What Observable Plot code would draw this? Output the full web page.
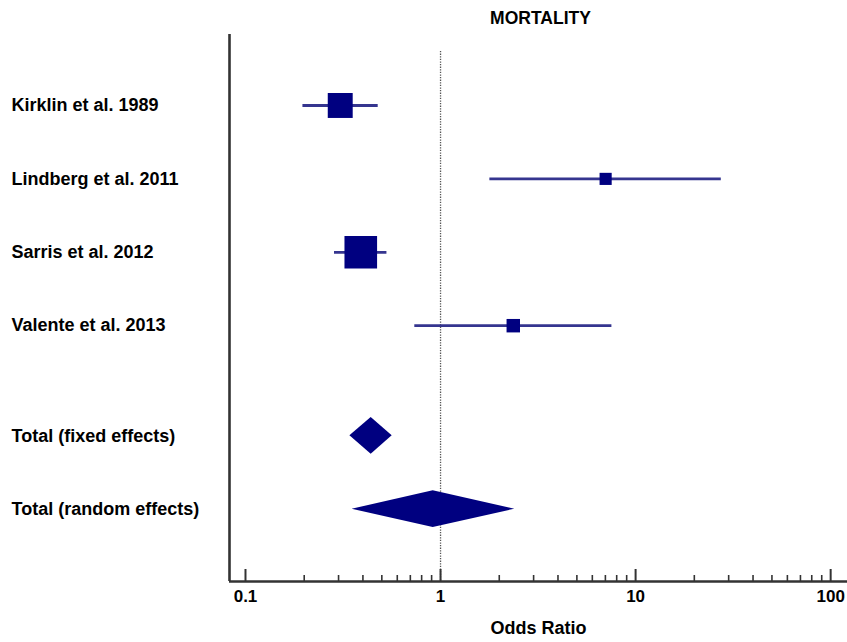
<!DOCTYPE html>
<html>
<head>
<meta charset="utf-8">
<script src="https://cdn.jsdelivr.net/npm/d3@7"></script>
<script src="https://cdn.jsdelivr.net/npm/@observablehq/plot@0.6"></script>
<style>
  html, body { margin: 0; padding: 0; background: #fff; }
  #chart svg { display: block; }
  #chart svg [aria-label="x-axis label"] text { font-size: 18px; }
</style>
</head>
<body>
<div id="chart"></div>
<script>
const studies = ["Kirklin et al. 1989", "Lindberg et al. 2011", "Sarris et al. 2012", "Valente et al. 2013"];
const studyOR = [0.306, 7.02, 0.390, 2.36];
const studyLower = [0.197, 1.79, 0.286, 0.738];
const studyUpper = [0.479, 27.5, 0.531, 7.56];
const studyWeight = [30.9, 7.3, 52.8, 9.0];

const pooledLabels = ["Total (fixed effects)", "Total (random effects)"];
const pooledOR = [0.441, 0.917];
const pooledLower = [0.343, 0.352];
const pooledUpper = [0.565, 2.40];

const majorTicks = [0.1, 1, 10, 100];
const tickLabels = ["0.1", "1", "10", "100"];
const minorTicks = [];
for (const base of [0.1, 1, 10]) for (let k = 2; k <= 9; k++) minorTicks.push(+(base * k).toPrecision(3));

const title = "MORTALITY";
const xLabel = "Odds Ratio";

// row positions (study rows, then a 1.5-row gap before the totals)
const studyRows = studies.map((s, i) => ({
  label: s, or: studyOR[i], lo: studyLower[i], hi: studyUpper[i], w: studyWeight[i], row: i
}));
const pooledRows = pooledLabels.map((s, i) => ({
  label: s, or: pooledOR[i], lo: pooledLower[i], hi: pooledUpper[i], row: studies.length + 0.5 + i
}));
const halfH = 0.25;
const diamondPts = pooledRows.flatMap(d => [
  {z: d.label, x: d.lo, y1: d.row, y2: d.row},
  {z: d.label, x: d.or, y1: d.row - halfH, y2: d.row + halfH},
  {z: d.label, x: d.hi, y1: d.row, y2: d.row}
]);
const allRows = [...studyRows, ...pooledRows];

const W = 847, H = 642, mT = 34, mB = 61, mL = 229, mR = 0;
const frameH = H - mT - mB;
const yDomain = [-0.967, 6.485];
const xDomain = [0.0828, 122];
const ink = "#333333";

const plot = Plot.plot({
  width: W, height: H,
  marginTop: mT, marginBottom: mB, marginLeft: mL, marginRight: mR,
  style: {fontFamily: "'Liberation Sans', Arial, sans-serif", background: "#fff", color: "#000"},
  x: {type: "log", domain: xDomain},
  y: {type: "linear", domain: yDomain, reverse: true, axis: null},
  r: {type: "sqrt", domain: [0, d3.max(studyWeight)], range: [0, 18.4]},
  marks: [
    Plot.ruleX([1], {insetTop: 17, stroke: "#555", strokeWidth: 1.3, strokeDasharray: "1.3,1.3"}),
    Plot.ruleY(studyRows, {x1: "lo", x2: "hi", y: "row", stroke: "#35358f", strokeWidth: 2.8}),
    Plot.dot(studyRows, {x: "or", y: "row", r: "w", symbol: "square", fill: "#000080", stroke: "none"}),
    Plot.areaY(diamondPts, {x: "x", y1: "y1", y2: "y2", z: "z", fill: "#000080", curve: "linear"}),
    Plot.text(allRows, {y: "row", text: "label", frameAnchor: "left", dx: -218, textAnchor: "start",
      fontWeight: "bold", fontSize: 18, fill: "#000"}),
    Plot.text([title], {frameAnchor: "top", lineAnchor: "middle", dy: -16, dx: 2, fontWeight: "bold", fontSize: 17.5, fill: "#000"}),
    Plot.tickX(majorTicks, {x: d => d, insetTop: frameH - 12, stroke: ink, strokeWidth: 2}),
    Plot.tickX(minorTicks, {x: d => d, insetTop: frameH - 6, stroke: ink, strokeWidth: 1.6}),
    Plot.ruleX([xDomain[0]], {stroke: ink, strokeWidth: 2.6}),
    Plot.ruleY([yDomain[1]], {stroke: ink, strokeWidth: 2.6}),
    Plot.axisX({
      ticks: majorTicks,
      tickFormat: d => tickLabels[majorTicks.indexOf(d)],
      tickSize: 0, tickPadding: 8,
      fontSize: 17, fontWeight: "bold", fill: "#000",
      label: xLabel, labelAnchor: "center", labelArrow: "none", labelOffset: 52
    })
  ]
});
document.getElementById("chart").appendChild(plot);
</script>
</body>
</html>
